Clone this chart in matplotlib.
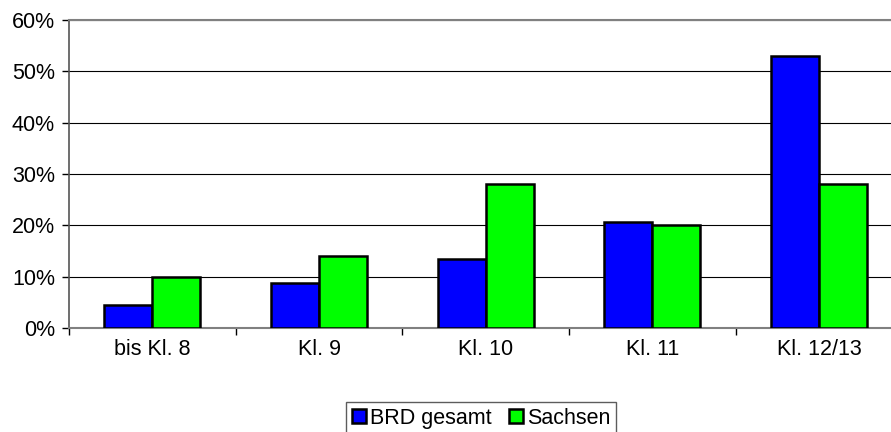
import numpy as np
import matplotlib
matplotlib.use("Agg")
from matplotlib import pyplot as plt
from matplotlib.ticker import FuncFormatter

categories = ["bis Kl. 8", "Kl. 9", "Kl. 10", "Kl. 11", "Kl. 12/13"]
brd = [4.4, 8.7, 13.4, 20.7, 53.0]
sachsen = [10.0, 14.0, 28.0, 20.0, 28.0]
yticks = [0, 10, 20, 30, 40, 50, 60]

plt.rcParams['font.family'] = ['Liberation Sans', 'DejaVu Sans']
plt.rcParams['font.size'] = 15.5

fig = plt.figure(figsize=(8.91, 4.32), dpi=100)
ax = fig.add_axes([69 / 891, 104 / 432, 833.5 / 891, 308 / 432])

x = np.arange(len(categories))
w = 0.288
ax.bar(x - w / 2, brd, w, color="#0000ff", edgecolor="black", linewidth=1.8, label="BRD gesamt", zorder=3)
ax.bar(x + w / 2, sachsen, w, color="#00ff00", edgecolor="black", linewidth=1.8, label="Sachsen", zorder=3)

ax.set_xlim(-0.5, len(categories) - 0.5)
ax.set_ylim(0, 60)
ax.set_yticks(yticks)
ax.yaxis.set_major_formatter(FuncFormatter(lambda v, p: "%d%%" % v))
ax.yaxis.grid(True, color="black", linewidth=0.8, zorder=0)
ax.set_axisbelow(True)

# category labels at centers, tick marks at boundaries
ax.set_xticks(x)
ax.set_xticklabels(categories)
ax.set_xticks(np.arange(len(categories) + 1) - 0.5, minor=True)
ax.tick_params(axis="x", which="major", length=0, pad=8)
ax.tick_params(axis="x", which="minor", length=5, width=1, color="black", direction="out")
ax.tick_params(axis="y", length=5, width=1, color="black", pad=5)

ax.spines["right"].set_visible(False)
ax.spines["top"].set_color("#808080")
ax.spines["top"].set_linewidth(1.5)
ax.spines["left"].set_color("#555555")
ax.spines["left"].set_linewidth(1.2)
ax.spines["bottom"].set_color("#808080")
ax.spines["bottom"].set_linewidth(1.5)

leg = fig.legend(loc="lower center", bbox_to_anchor=(481 / 891, -0.005), ncol=2,
                 handlelength=0.65, handleheight=0.65, handletextpad=0.2,
                 columnspacing=0.8, borderpad=0.25, borderaxespad=0,
                 fancybox=False, frameon=True)
leg.get_frame().set_edgecolor("#333333")
leg.get_frame().set_linewidth(1.0)

fig.savefig("out.png", dpi=100)
